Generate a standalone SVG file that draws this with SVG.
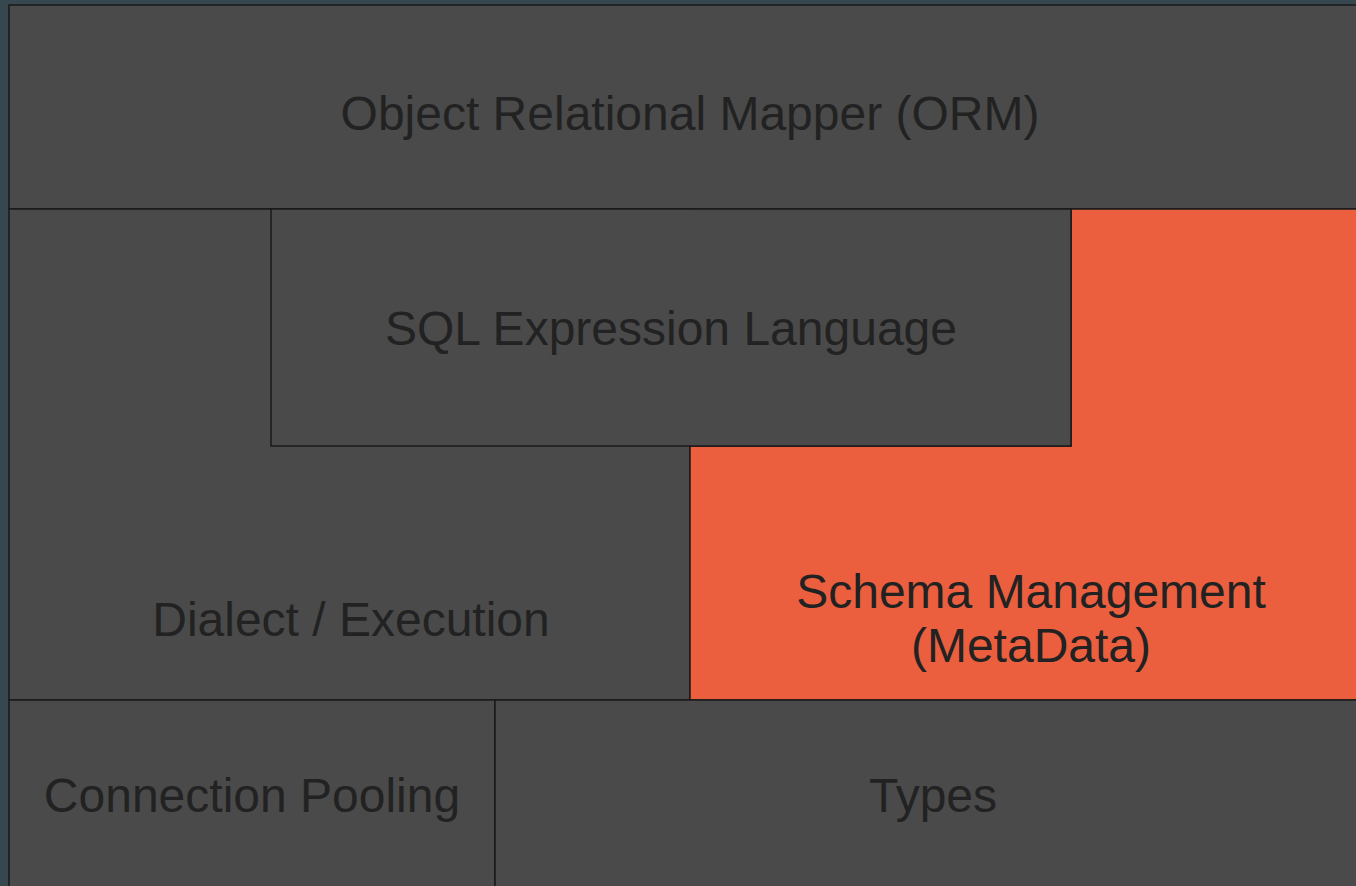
<svg xmlns="http://www.w3.org/2000/svg" width="1356" height="886" viewBox="0 0 1356 886">
<style>
.box{fill:#4a4a4a;stroke:#1a1a1a;stroke-width:1.5}
.hl{fill:#eb5f3f;stroke:#1a1a1a;stroke-width:1.5}
.t{font-family:"Liberation Sans",Arial,sans-serif;font-size:48px;fill:#222;text-anchor:middle}
</style>
<rect x="0" y="0" width="1356" height="886" fill="#37474f"/>
<g id="orm"><rect class="box" x="9" y="5" width="1363" height="204"/><text class="t" x="690" y="130">Object Relational Mapper (ORM)</text></g>
<g id="dialect"><rect class="box" x="9" y="209" width="681" height="491"/><text class="t" x="351" y="636">Dialect / Execution</text></g>
<g id="schema"><path class="hl" d="M1071 209 H1372 V700 H690 V446 H1071 Z"/><text class="t" x="1031" y="608">Schema Management</text><text class="t" x="1031" y="662">(MetaData)</text></g>
<g id="sql"><rect class="box" x="271" y="209" width="800" height="237"/><text class="t" x="671" y="345">SQL Expression Language</text></g>
<g id="pool"><rect class="box" x="9" y="700" width="486" height="200"/><text class="t" x="252" y="812">Connection Pooling</text></g>
<g id="types"><rect class="box" x="495" y="700" width="877" height="200"/><text class="t" x="933" y="812">Types</text></g>
<g id="connectors"></g>
</svg>
